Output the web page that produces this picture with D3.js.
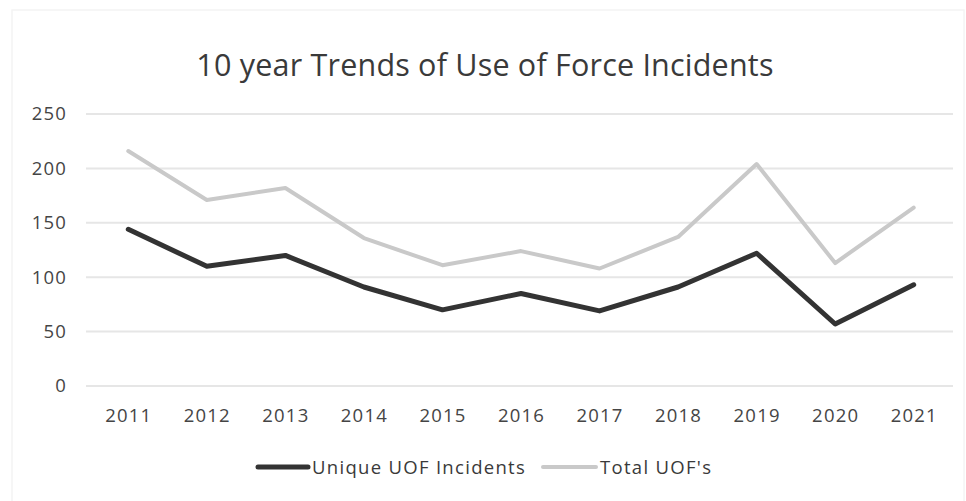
<!DOCTYPE html>
<html>
<head>
<meta charset="utf-8">
<script src="https://cdn.jsdelivr.net/npm/d3@7"></script>
<style>
  html, body { margin: 0; padding: 0; background: #fff; }
  svg { display: block; font-family: "Open Sans", "Noto Sans", sans-serif; }
</style>
</head>
<body>
<svg id="chart" width="966" height="501"></svg>
<script>
// Years on the category axis
const years = ["2011","2012","2013","2014","2015","2016","2017","2018","2019","2020","2021"];
// Unique use-of-force incidents per year
const uniqueUOF = [144, 110, 120, 91, 70, 85, 69, 91, 122, 57, 93];
// Total use-of-force counts per year
const totalUOF = [216, 171, 182, 136, 111, 124, 108, 137, 204, 113, 164];
// Value-axis tick labels
const yTicks = [0, 50, 100, 150, 200, 250];
const seriesNames = ["Unique UOF Incidents", "Total UOF's"];

const svg = d3.select("#chart");
const W = 966, H = 501;

// faint outer frame
svg.append("rect")
  .attr("x", 12).attr("y", 10).attr("width", W - 14).attr("height", H - 8)
  .attr("fill", "none").attr("stroke", "#f4f4f4").attr("stroke-width", 1.5);

const plot = { left: 86, right: 953, top: 114, bottom: 386 };

const x = d3.scalePoint()
  .domain(years)
  .range([plot.left + 3, plot.right])
  .padding(0.5);

const y = d3.scaleLinear()
  .domain([0, 250])
  .range([plot.bottom, plot.top]);

// horizontal gridlines
svg.append("g")
  .selectAll("line")
  .data(yTicks)
  .join("line")
  .attr("x1", plot.left).attr("x2", plot.right)
  .attr("y1", d => y(d)).attr("y2", d => y(d))
  .attr("stroke", "#e6e6e6").attr("stroke-width", 2);

const tickFont = g => g.selectAll("text")
  .attr("fill", "#454545")
  .style("font-size", "18.5px")
  .style("letter-spacing", "1.2px")
  .style("font-family", "'Open Sans', sans-serif");

// value axis labels
const yAxis = d3.axisLeft(y).tickValues(yTicks).tickSize(0).tickPadding(0);
svg.append("g")
  .attr("transform", `translate(${plot.left - 19},0)`)
  .call(yAxis)
  .call(g => g.select(".domain").remove())
  .call(tickFont);

// category axis labels
const xAxis = d3.axisBottom(x).tickSize(0).tickPadding(0);
svg.append("g")
  .attr("transform", `translate(0,${plot.bottom + 23})`)
  .call(xAxis)
  .call(g => g.select(".domain").remove())
  .call(tickFont);

// title
svg.append("text")
  .attr("x", 485).attr("y", 76)
  .attr("text-anchor", "middle")
  .attr("fill", "#3a3a3a")
  .style("font-size", "30.5px")
  .style("letter-spacing", "0.2px")
  .text("10 year Trends of Use of Force Incidents");

const line = d3.line()
  .x((d, i) => x(years[i]))
  .y(d => y(d));

const series = [
  { name: seriesNames[1], values: totalUOF, color: "#c9c9c9", width: 4 },
  { name: seriesNames[0], values: uniqueUOF, color: "#333333", width: 5 }
];

svg.append("g")
  .selectAll("path")
  .data(series)
  .join("path")
  .attr("d", d => line(d.values))
  .attr("fill", "none")
  .attr("stroke", d => d.color)
  .attr("stroke-width", d => d.width)
  .attr("stroke-linejoin", "round")
  .attr("stroke-linecap", "round");

// legend
const legend = svg.append("g").attr("transform", "translate(0,467)");
const legendItems = [
  { name: seriesNames[0], color: "#333333", width: 5, x0: 258, tx: 312 },
  { name: seriesNames[1], color: "#c9c9c9", width: 4, x0: 543, tx: 600 }
];
legendItems.forEach(it => {
  legend.append("line")
    .attr("x1", it.x0).attr("x2", it.tx - 4)
    .attr("y1", 0).attr("y2", 0)
    .attr("stroke", it.color).attr("stroke-width", it.width)
    .attr("stroke-linecap", "round");
  legend.append("text")
    .attr("x", it.tx).attr("y", 7)
    .attr("fill", "#3a3a3a")
    .style("font-size", "18.5px")
    .style("letter-spacing", "1.3px")
    .text(it.name);
});
</script>
</body>
</html>
